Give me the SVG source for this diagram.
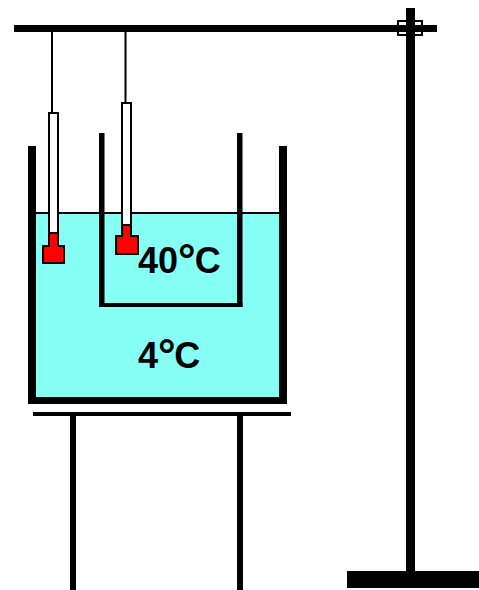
<svg xmlns="http://www.w3.org/2000/svg" width="479" height="590" viewBox="0 0 479 590">
<style>
.k{fill:#000}
.w{fill:#86fff5}
.r{fill:#f00;stroke:#000;stroke-width:2}
.t{fill:#fff;stroke:#000;stroke-width:2}
.l{font-family:"Liberation Sans",Arial,sans-serif;font-weight:700;font-size:36px;fill:#000}
.d{font-size:44px}
</style>
<rect width="479" height="590" fill="#fff"/>
<g id="water">
<rect class="w" x="36" y="212" width="243" height="185"/>
<rect class="k" x="36" y="212" width="243" height="2"/>
</g>
<g id="outer-beaker">
<rect class="k" x="28" y="146" width="8" height="258"/>
<rect class="k" x="279" y="146" width="8" height="258"/>
<rect class="k" x="28" y="397" width="259" height="7"/>
</g>
<g id="inner-beaker">
<rect class="k" x="99" y="133" width="5.500" height="174"/>
<rect class="k" x="237" y="133" width="5.500" height="174"/>
<rect class="k" x="99" y="303" width="143.500" height="4"/>
</g>
<g id="tripod">
<rect class="k" x="33" y="412" width="258" height="4"/>
<rect class="k" x="70" y="416" width="6" height="174"/>
<rect class="k" x="237" y="416" width="6" height="174"/>
</g>
<g id="stand">
<rect class="k" x="406" y="8" width="9" height="565"/>
<rect class="k" x="347" y="571" width="132" height="17"/>
<rect class="k" x="14" y="25" width="423" height="7"/>
<rect x="398" y="21" width="24" height="14" fill="none" stroke="#000" stroke-width="2"/>
</g>
<g id="thermometer-1">
<rect class="k" x="51" y="32" width="2" height="80"/>
<rect class="t" x="49" y="113" width="9" height="125"/>
<path class="r" d="M49 233H58V246H64V263H43V246H49Z"/>
</g>
<g id="thermometer-2">
<rect class="k" x="124.500" y="32" width="2" height="71"/>
<rect class="t" x="122" y="103" width="9" height="125"/>
<path class="r" d="M122 225H131V236H138V254H116V236H122Z"/>
</g>
<g id="label-40">
<text class="l" x="138" y="273">40<tspan class="d" dy="2">°</tspan><tspan dy="-2" dx="-1">C</tspan></text>
</g>
<g id="label-4">
<text class="l" x="138" y="368">4<tspan class="d" dy="2">°</tspan><tspan dy="-2" dx="-1.500">C</tspan></text>
</g>
</svg>
